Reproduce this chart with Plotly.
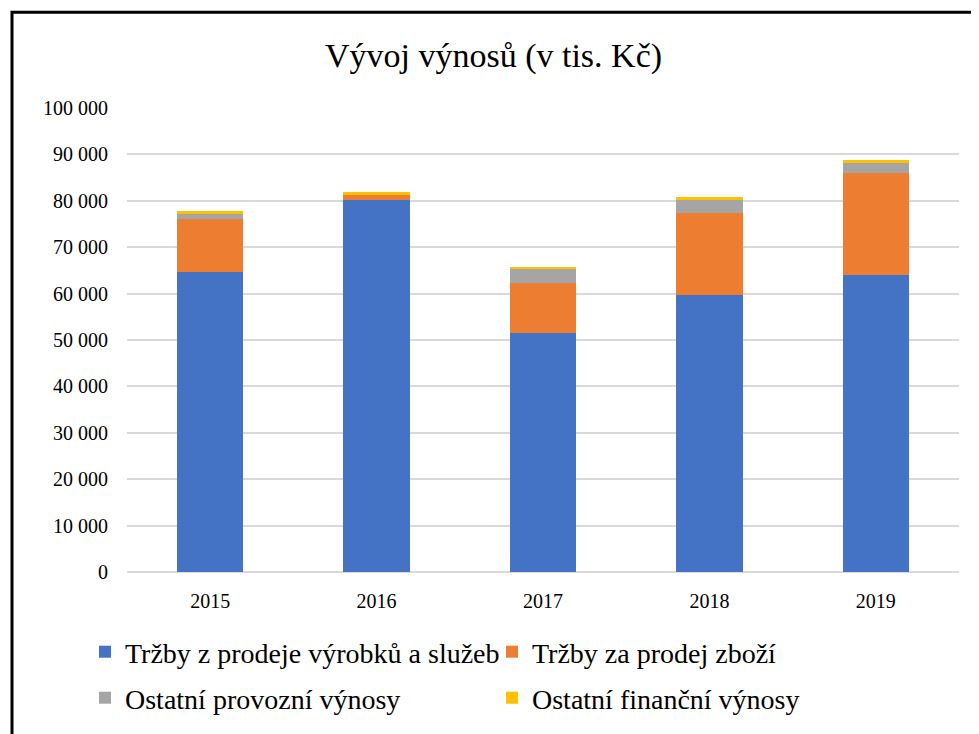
import plotly.graph_objects as go

years = ["2015", "2016", "2017", "2018", "2019"]
trzby_vyrobky = [64700, 80200, 51600, 59600, 64100]
trzby_zbozi = [11400, 1100, 10700, 17700, 21800]
ostatni_provozni = [1100, 0, 2900, 2900, 2300]
ostatni_financni = [600, 600, 600, 600, 600]

names = ["Tržby z prodeje výrobků a služeb", "Tržby za prodej zboží",
         "Ostatní provozní výnosy", "Ostatní finanční výnosy"]
colors = ["#4472C4", "#ED7D31", "#A5A5A5", "#FFC000"]
series = [trzby_vyrobky, trzby_zbozi, ostatni_provozni, ostatni_financni]
legends = ["legend", "legend", "legend2", "legend2"]

FONT = "Liberation Serif"

fig = go.Figure()
for n, c, s, lg in zip(names, colors, series, legends):
    fig.add_trace(go.Bar(x=years, y=s, name=n, legend=lg, marker=dict(color=c, line=dict(width=0))))

# page body has an 8px margin, so the figure is drawn 8px smaller
W, H = 971, 726
L, T, R, B = 119, 100, 20, 161
pw, ph = W - L - R, H - T - B

def px(x):
    return (x - L) / pw

def py(y):
    return (H - B - y) / ph

legend_common = dict(orientation="h", xanchor="left", yanchor="middle",
                     font=dict(family=FONT, size=28, color="black"), entrywidth=362,
                     entrywidthmode="pixels", itemwidth=30, traceorder="normal",
                     bgcolor="rgba(0,0,0,0)")

fig.update_layout(
    barmode="stack",
    bargap=0.6,
    width=W, height=H,
    margin=dict(l=L, r=R, t=T, b=B),
    paper_bgcolor="white", plot_bgcolor="white",
    separators=", ",
    font=dict(family=FONT, color="black"),
    title=dict(text="Vývoj výnosů (v tis. Kč)", x=0.5, xanchor="center", y=1 - 47 / H, yanchor="middle",
               font=dict(family=FONT, size=34, color="black")),
    xaxis=dict(showgrid=False, showline=False, ticks="", tickfont=dict(family=FONT, size=20),
               ticklabelstandoff=15),
    yaxis=dict(range=[0, 100000], dtick=10000, tickformat=",d", showgrid=True,
               gridcolor="#D9D9D9", gridwidth=2, zeroline=True, zerolinecolor="#D9D9D9", zerolinewidth=2,
               tickfont=dict(family=FONT, size=20), ticks="", ticklabelstandoff=18),
    legend=dict(x=px(77), y=py(644), **legend_common),
    legend2=dict(x=px(77), y=py(690), **legend_common),
    shapes=[dict(type="rect", xref="paper", yref="paper", x0=px(4), x1=px(W + 20), y0=py(H + 20), y1=py(4),
                 line=dict(color="black", width=3), layer="above")],
)

fig.write_html("out.html")
